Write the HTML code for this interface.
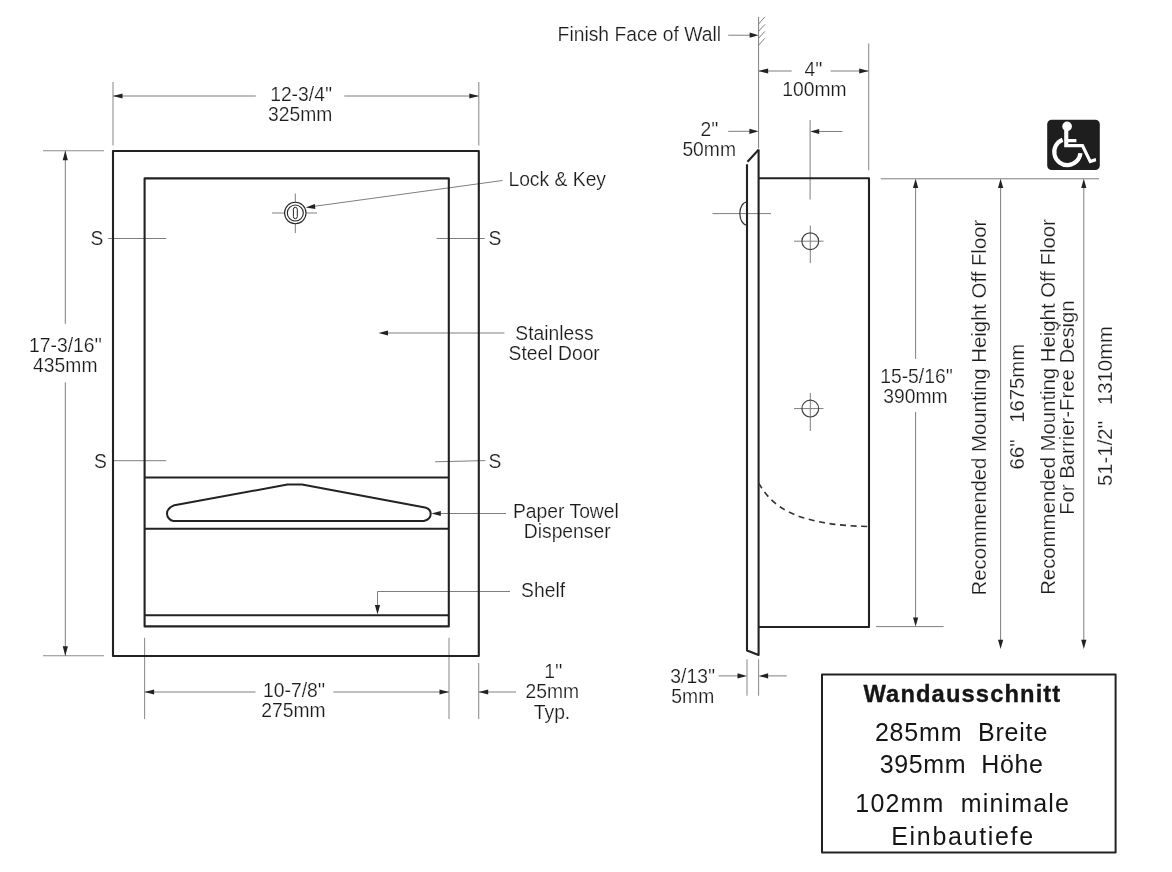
<!DOCTYPE html>
<html><head><meta charset="utf-8">
<style>
html,body{margin:0;padding:0;background:#fff;}
body{width:1172px;height:872px;overflow:hidden;}
svg{display:block;will-change:transform;}
text{font-family:"Liberation Sans",sans-serif;fill:#1c1c1c;stroke:#fff;stroke-width:0.2px;}
.bb{stroke:none;fill:#151515;}
.bw{stroke:#151515;stroke-width:0.35px;fill:#151515;}
.k{stroke:#222;stroke-width:2.1;fill:none;stroke-linejoin:round;}
.g{stroke:#7e7e7e;stroke-width:1;fill:none;}
.d{stroke:#8c8c8c;stroke-width:1.05;fill:none;}
.a{fill:#222;stroke:none;}
</style></head>
<body>
<svg width="1172" height="872" viewBox="0 0 1172 872">
<line class="g" x1="272" y1="213" x2="284.7" y2="213"/>
<line class="g" x1="305.9" y1="213" x2="317" y2="213"/>
<line class="g" x1="295.3" y1="193.5" x2="295.3" y2="202.4"/>
<line class="g" x1="295.3" y1="223.6" x2="295.3" y2="233"/>
<line class="g" x1="108.2" y1="238.5" x2="166.2" y2="238.5"/>
<line class="g" x1="436.6" y1="238.5" x2="484.8" y2="238.5"/>
<line class="g" x1="112" y1="460.7" x2="166.2" y2="460.7"/>
<line class="g" x1="435" y1="461.8" x2="485.3" y2="460.6"/>
<line class="d" x1="113" y1="82" x2="113" y2="145.4"/>
<line class="d" x1="478.8" y1="82" x2="478.8" y2="145.4"/>
<line class="g" x1="113" y1="96" x2="255.8" y2="96"/>
<line class="g" x1="344.3" y1="96" x2="478.8" y2="96"/>
<line class="d" x1="43" y1="150.8" x2="104" y2="150.8"/>
<line class="d" x1="43" y1="655.8" x2="104" y2="655.8"/>
<line class="g" x1="65.3" y1="150.8" x2="65.3" y2="323.8"/>
<line class="g" x1="65.3" y1="382.3" x2="65.3" y2="655.8"/>
<line class="d" x1="144.6" y1="637.7" x2="144.6" y2="719"/>
<line class="d" x1="449" y1="637.7" x2="449" y2="719"/>
<line class="d" x1="478.7" y1="663" x2="478.7" y2="719"/>
<line class="g" x1="144.6" y1="692" x2="255.5" y2="692"/>
<line class="g" x1="333.4" y1="692" x2="449" y2="692"/>
<line class="g" x1="478.7" y1="692" x2="516" y2="692"/>
<line class="g" x1="502.4" y1="180.5" x2="310" y2="206.9"/>
<line class="g" x1="385" y1="333" x2="504.4" y2="333"/>
<line class="g" x1="438" y1="513.5" x2="506" y2="513.5"/>
<polyline class="g" points="510,591.5 377.5,591.5 377.5,607"/>
<line class="g" x1="758.6" y1="17" x2="758.6" y2="148.5"/>
<path class="g" d="M758.6,24 L764.8,17 M758.6,31.3 L764.8,24.5 M758.6,38.2 L764.8,31.4 M758.6,45.2 L764.8,38.3"/>
<line class="g" x1="728.2" y1="35.2" x2="752" y2="35.2"/>
<line class="d" x1="868.7" y1="43.4" x2="868.7" y2="170.2"/>
<line class="g" x1="758.6" y1="71" x2="791.7" y2="71"/>
<line class="g" x1="830.6" y1="71" x2="868.7" y2="71"/>
<line class="g" x1="728.2" y1="131.3" x2="752" y2="131.3"/>
<line class="g" x1="810.1" y1="120" x2="810.1" y2="199.6"/>
<line class="g" x1="816" y1="131.5" x2="842.3" y2="131.5"/>
<line class="g" x1="712.5" y1="213.6" x2="771" y2="213.6"/>
<line class="g" x1="794" y1="241.2" x2="823.5" y2="241.2"/>
<line class="g" x1="810.3" y1="225.5" x2="810.3" y2="263.2"/>
<line class="g" x1="794" y1="408.6" x2="823.5" y2="408.6"/>
<line class="g" x1="810.3" y1="393" x2="810.3" y2="431"/>
<line class="d" x1="747" y1="659.3" x2="747" y2="695.8"/>
<line class="d" x1="758.6" y1="659.3" x2="758.6" y2="695.8"/>
<line class="g" x1="718.6" y1="675.9" x2="740" y2="675.9"/>
<line class="g" x1="765" y1="675.9" x2="786.7" y2="675.9"/>
<line class="g" x1="880.7" y1="178.8" x2="1099" y2="178.8"/>
<line class="g" x1="876" y1="626.6" x2="943.6" y2="626.6"/>
<line class="g" x1="915.6" y1="186" x2="915.6" y2="358.9"/>
<line class="g" x1="915.6" y1="411.9" x2="915.6" y2="620"/>
<line class="g" x1="1000.6" y1="186" x2="1000.6" y2="642"/>
<line class="g" x1="1083.8" y1="186" x2="1083.8" y2="642"/>
<rect class="k" x="113" y="151" width="365.8" height="505"/>
<rect class="k" x="144.6" y="178.4" width="304.2" height="448"/>
<line class="k" x1="144.6" y1="477.5" x2="448.8" y2="477.5"/>
<line class="k" x1="144.6" y1="528.8" x2="448.8" y2="528.8"/>
<line class="k" x1="144.6" y1="615.3" x2="448.8" y2="615.3"/>
<path class="k" d="M173.5,521 L423.9,521 C428,519.8 430.7,517 430.7,513.9 C430.7,510.5 428.6,508.3 425,507.5 L302,484.6 L287.5,484.6 L174.4,505.2 C169.5,507.3 167,510.5 167,513.5 C167,517.3 170,520.6 173.5,521 Z" style="stroke-width:2"/>
<circle class="k" cx="295.3" cy="213" r="10.7" style="stroke-width:1.1"/>
<circle class="k" cx="295.3" cy="213" r="8.0" style="stroke-width:1.1"/>
<rect class="k" x="293.4" y="207.3" width="3.9" height="11.4" rx="1.95" style="stroke-width:1.0"/>
<text transform="translate(97,244.6) scale(0.92,1)" text-anchor="middle" style="font-size:21.0px;">S</text>
<text transform="translate(495,245.4) scale(0.92,1)" text-anchor="middle" style="font-size:21.0px;">S</text>
<text transform="translate(100.4,467.6) scale(0.92,1)" text-anchor="middle" style="font-size:21.0px;">S</text>
<text transform="translate(495,468.2) scale(0.92,1)" text-anchor="middle" style="font-size:21.0px;">S</text>
<path class="a" d="M113.00,96.00 L122.50,93.40 L122.50,98.60 Z"/>
<path class="a" d="M478.80,96.00 L469.30,93.40 L469.30,98.60 Z"/>
<text transform="translate(301.2,101.3) scale(0.92,1)" text-anchor="middle" style="font-size:21.0px;">12-3/4&#39;&#39;</text>
<text transform="translate(300.2,121.4) scale(0.92,1)" text-anchor="middle" style="font-size:21.0px;">325mm</text>
<path class="a" d="M65.30,150.80 L62.70,160.30 L67.90,160.30 Z"/>
<path class="a" d="M65.30,655.80 L62.70,646.30 L67.90,646.30 Z"/>
<text transform="translate(65.5,352.3) scale(0.92,1)" text-anchor="middle" style="font-size:21.0px;">17-3/16&#39;&#39;</text>
<text transform="translate(65.3,372) scale(0.92,1)" text-anchor="middle" style="font-size:21.0px;">435mm</text>
<path class="a" d="M144.60,692.00 L154.10,689.40 L154.10,694.60 Z"/>
<path class="a" d="M449.00,692.00 L439.50,689.40 L439.50,694.60 Z"/>
<path class="a" d="M478.70,692.00 L488.20,689.40 L488.20,694.60 Z"/>
<text transform="translate(294.1,697.2) scale(0.92,1)" text-anchor="middle" style="font-size:21.0px;">10-7/8&#39;&#39;</text>
<text transform="translate(293.5,717.4) scale(0.92,1)" text-anchor="middle" style="font-size:21.0px;">275mm</text>
<text transform="translate(553.3,678.3) scale(0.92,1)" text-anchor="middle" style="font-size:21.0px;">1&#39;&#39;</text>
<text transform="translate(552.3,698.3) scale(0.92,1)" text-anchor="middle" style="font-size:21.0px;">25mm</text>
<text transform="translate(552,718.7) scale(0.92,1)" text-anchor="middle" style="font-size:21.0px;">Typ.</text>
<path class="a" d="M305.7,207.5 L314.8,203.9 L315.4,209.1 Z"/>
<text transform="translate(557.2,186.2) scale(0.92,1)" text-anchor="middle" style="font-size:21.0px;">Lock &amp; Key</text>
<path class="a" d="M378.50,333.00 L388.00,330.40 L388.00,335.60 Z"/>
<text transform="translate(554.5,339.9) scale(0.92,1)" text-anchor="middle" style="font-size:21.0px;">Stainless</text>
<text transform="translate(554.2,359.5) scale(0.92,1)" text-anchor="middle" style="font-size:21.0px;">Steel Door</text>
<path class="a" d="M431.30,513.50 L440.80,510.90 L440.80,516.10 Z"/>
<text transform="translate(565.9,518.2) scale(0.92,1)" text-anchor="middle" style="font-size:21.0px;">Paper Towel</text>
<text transform="translate(567.2,538.3) scale(0.92,1)" text-anchor="middle" style="font-size:21.0px;">Dispenser</text>
<path class="a" d="M377.50,614.60 L374.90,605.10 L380.10,605.10 Z"/>
<text transform="translate(543.1,597.2) scale(0.92,1)" text-anchor="middle" style="font-size:21.0px;">Shelf</text>
<path class="a" d="M758.60,35.20 L749.60,32.60 L749.60,37.80 Z"/>
<text transform="translate(639.3,41) scale(0.92,1)" text-anchor="middle" style="font-size:21.0px;">Finish Face of Wall</text>
<path class="a" d="M758.60,71.00 L768.10,68.40 L768.10,73.60 Z"/>
<path class="a" d="M868.70,71.00 L859.20,68.40 L859.20,73.60 Z"/>
<text transform="translate(813.5,75.8) scale(0.92,1)" text-anchor="middle" style="font-size:21.0px;">4&#39;&#39;</text>
<text transform="translate(814.4,95.6) scale(0.92,1)" text-anchor="middle" style="font-size:21.0px;">100mm</text>
<path class="a" d="M758.60,131.30 L749.40,128.70 L749.40,133.90 Z"/>
<path class="a" d="M810.10,131.50 L819.20,128.90 L819.20,134.10 Z"/>
<text transform="translate(709.5,135.6) scale(0.92,1)" text-anchor="middle" style="font-size:21.0px;">2&#39;&#39;</text>
<text transform="translate(709.2,156.2) scale(0.92,1)" text-anchor="middle" style="font-size:21.0px;">50mm</text>
<path class="k" d="M758.6,149.5 L758.6,655 L747,650.4 L747,164.2"/>
<line class="k" x1="747.5" y1="161.8" x2="758.6" y2="149.8"/>
<path class="k" d="M758.6,178.2 L869,178.2 L869,627 L758.6,627"/>
<path d="M747,202 A7.2,11.5 0 0 0 747,225" style="fill:none;stroke:#333;stroke-width:1.2"/>
<circle cx="810.3" cy="241.2" r="8.4" style="fill:none;stroke:#444;stroke-width:1.2"/>
<circle cx="810.3" cy="408.6" r="8.4" style="fill:none;stroke:#444;stroke-width:1.2"/>
<path d="M758.7,483.2 C770.6,503.5 790.7,525.2 869,526.5" style="fill:none;stroke:#333;stroke-width:1.6;stroke-dasharray:6,4.6"/>
<path class="a" d="M747.00,675.90 L737.50,673.30 L737.50,678.50 Z"/>
<path class="a" d="M758.60,675.90 L768.10,673.30 L768.10,678.50 Z"/>
<text transform="translate(692.8,683.2) scale(0.92,1)" text-anchor="middle" style="font-size:21.0px;">3/13&#39;&#39;</text>
<text transform="translate(692.8,702.8) scale(0.92,1)" text-anchor="middle" style="font-size:21.0px;">5mm</text>
<path class="a" d="M915.60,178.80 L913.00,188.00 L918.20,188.00 Z"/>
<path class="a" d="M915.60,626.60 L913.00,617.40 L918.20,617.40 Z"/>
<text transform="translate(916.6,382.8) scale(0.92,1)" text-anchor="middle" style="font-size:21.0px;">15-5/16&#39;&#39;</text>
<text transform="translate(915.5,403) scale(0.92,1)" text-anchor="middle" style="font-size:21.0px;">390mm</text>
<path class="a" d="M1000.60,178.80 L998.00,188.00 L1003.20,188.00 Z"/>
<path class="a" d="M1000.60,649.00 L998.00,639.80 L1003.20,639.80 Z"/>
<path class="a" d="M1083.80,178.80 L1081.20,188.00 L1086.40,188.00 Z"/>
<path class="a" d="M1083.80,649.00 L1081.20,639.80 L1086.40,639.80 Z"/>
<text transform="translate(986.3,407.6) rotate(-90) scale(0.968,1)" text-anchor="middle" style="font-size:21.0px;">Recommended Mounting Height Off Floor</text>
<text transform="translate(1023.5,469.4) rotate(-90) scale(0.968,1)" text-anchor="start" style="font-size:21.0px;">66&#39;&#39;</text>
<text transform="translate(1023.5,343.8) rotate(-90) scale(0.968,1)" text-anchor="end" style="font-size:21.0px;">1675mm</text>
<text transform="translate(1054.9,407) rotate(-90) scale(0.968,1)" text-anchor="middle" style="font-size:21.0px;">Recommended Mounting Height Off Floor</text>
<text transform="translate(1074.2,407.6) rotate(-90) scale(0.968,1)" text-anchor="middle" style="font-size:21.0px;">For Barrier-Free Design</text>
<text transform="translate(1111.5,486) rotate(-90) scale(0.968,1)" text-anchor="start" style="font-size:21.0px;">51-1/2&#39;&#39;</text>
<text transform="translate(1111.5,326) rotate(-90) scale(0.968,1)" text-anchor="end" style="font-size:21.0px;">1310mm</text>
<rect x="1047.2" y="119.8" width="52.6" height="50.3" rx="4.5" fill="#1e1e1e"/>
<circle cx="1067.1" cy="126.4" r="4.8" fill="#fff"/>
<path d="M1064.2,126 L1068.3,126 L1068.3,139.1 L1076.4,139.1 L1076.4,142.2 L1068.3,142.2 L1068.3,143.9 L1083.5,143.9 L1091,159.5 L1095.7,158 L1096.2,161.2 L1089.5,163.5 L1081.5,147.3 L1064.2,147.3 Z" fill="#fff"/>
<path d="M1062.6,139.8 A13.1,13.1 0 1 0 1080.4,153.1" style="fill:none;stroke:#fff;stroke-width:4.2"/>
<rect class="k" x="822" y="674.6" width="293.6" height="178" style="stroke-width:2"/>
<text class="bw" transform="translate(962.4,702.2) scale(0.97,1)" text-anchor="middle" style="font-size:24.5px;font-weight:bold;letter-spacing:1.13px">Wandausschnitt</text>
<text class="bb" transform="translate(961.5,741.3) scale(1.0,1)" text-anchor="middle" style="font-size:25.0px;letter-spacing:0.82px">285mm  Breite</text>
<text class="bb" transform="translate(961.6,773.2) scale(1.0,1)" text-anchor="middle" style="font-size:25.0px;letter-spacing:0.63px">395mm  Höhe</text>
<text class="bb" transform="translate(962.7,812.2) scale(1.0,1)" text-anchor="middle" style="font-size:25.0px;letter-spacing:1.16px">102mm  minimale</text>
<text class="bb" transform="translate(963,844.7) scale(1.0,1)" text-anchor="middle" style="font-size:25.0px;letter-spacing:1.67px">Einbautiefe</text>
</svg>
</body></html>
